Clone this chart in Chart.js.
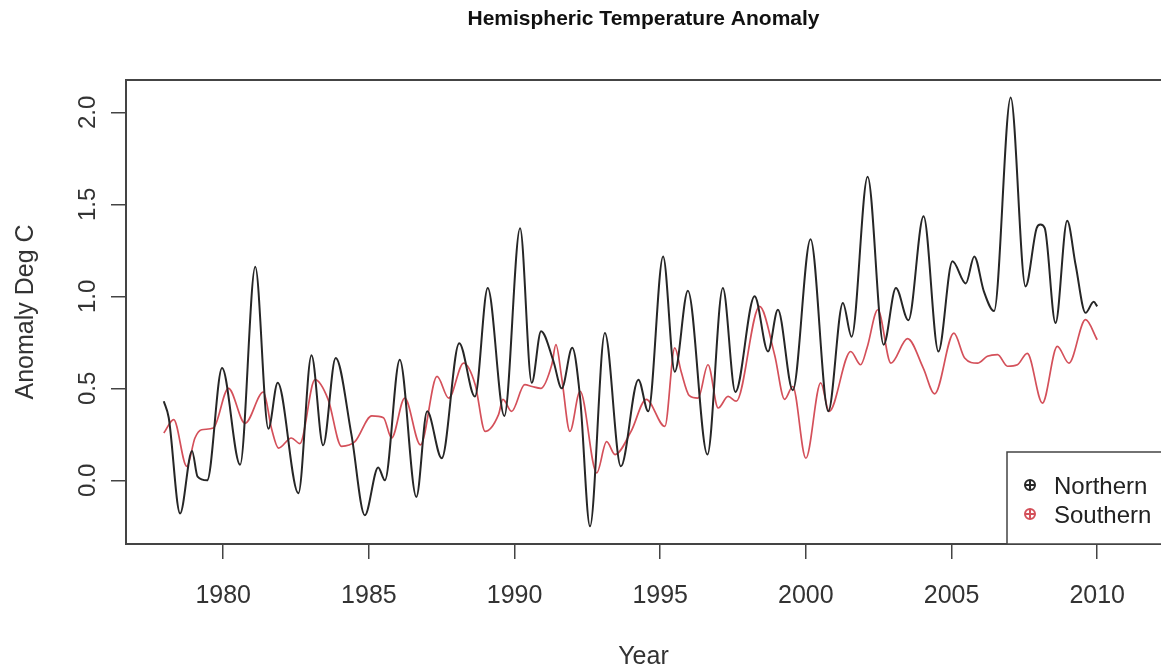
<!DOCTYPE html>
<html lang="en">
<head>
  <meta charset="UTF-8" />
  <title>Hemispheric Temperature Anomaly</title>
  <script src="https://cdn.jsdelivr.net/npm/chart.js"></script>
  <style>
    html, body { margin: 0; padding: 0; background: #fff; overflow: hidden; }
    canvas { display: block; }
  </style>
</head>
<body>
  <canvas id="anomalyChart" width="1161" height="668"></canvas>

  <script>
    // values (year, deg C)
    const northYears = [
      1977.96, 1978.13, 1978.52, 1978.93, 1979.12, 1979.45, 1979.96, 1980.58, 1981.10, 1981.55,
      1981.87, 1982.58, 1983.03, 1983.43, 1983.86, 1984.40, 1984.86, 1985.32, 1985.55, 1986.06,
      1986.63, 1987.00, 1987.50, 1988.10, 1988.64, 1989.08, 1989.65, 1990.19, 1990.59, 1990.91,
      1991.33, 1991.62, 1991.98, 1992.25, 1992.59, 1993.10, 1993.65, 1994.25, 1994.59, 1995.10,
      1995.50, 1995.95, 1996.62, 1997.15, 1997.58, 1998.24, 1998.70, 1999.04, 1999.55, 2000.16,
      2000.77, 2001.27, 2001.57, 2002.12, 2002.67, 2003.09, 2003.52, 2004.04, 2004.55, 2005.03,
      2005.49, 2005.78, 2006.11, 2006.46, 2007.03, 2007.54, 2007.92, 2008.05, 2008.20, 2008.57,
      2008.97, 2009.26, 2009.60, 2009.88, 2010.00
    ];
    const northValues = [
      0.43, 0.34, -0.18, 0.16, 0.02, 0.00, 0.61, 0.085, 1.16, 0.28,
      0.53, -0.07, 0.68, 0.19, 0.665, 0.25, -0.19, 0.07, 0.00, 0.655,
      -0.09, 0.375, 0.12, 0.745, 0.455, 1.045, 0.35, 1.37, 0.53, 0.81,
      0.65, 0.50, 0.72, 0.45, -0.25, 0.80, 0.076, 0.547, 0.375, 1.217,
      0.59, 1.03, 0.14, 1.045, 0.48, 1.00, 0.70, 0.927, 0.49, 1.31,
      0.375, 0.964, 0.78, 1.65, 0.737, 1.045, 0.87, 1.435, 0.70, 1.19,
      1.07, 1.217, 1.027, 0.92, 2.08, 1.054, 1.37, 1.39, 1.37, 0.855,
      1.41, 1.17, 0.91, 0.97, 0.945
    ];

    const southYears = [
      1977.96, 1978.30, 1978.75, 1979.03, 1979.26, 1979.66, 1980.18, 1980.75, 1981.38, 1981.66,
      1981.90, 1982.34, 1982.63, 1983.15, 1983.60, 1984.06, 1984.52, 1985.10, 1985.50, 1985.78,
      1986.23, 1986.77, 1987.34, 1987.74, 1988.25, 1988.65, 1988.99, 1989.45, 1989.60, 1989.90,
      1990.35, 1990.60, 1990.90, 1991.28, 1991.42, 1991.62, 1991.90, 1992.25, 1992.82, 1993.16,
      1993.45, 1994.00, 1994.52, 1995.16, 1995.50, 1995.72, 1996.00, 1996.30, 1996.64, 1996.99,
      1997.33, 1997.61, 1998.41, 1998.93, 1999.27, 1999.55, 2000.00, 2000.51, 2000.80, 2001.54,
      2001.88, 2002.10, 2002.47, 2002.92, 2003.49, 2004.03, 2004.42, 2005.08, 2005.45, 2005.89,
      2006.23, 2006.58, 2006.92, 2007.26, 2007.60, 2008.12, 2008.63, 2009.03, 2009.60, 2010.00
    ];
    const southValues = [
      0.257, 0.33, 0.076, 0.23, 0.275, 0.284, 0.50, 0.31, 0.48, 0.28,
      0.175, 0.23, 0.20, 0.547, 0.44, 0.185, 0.21, 0.35, 0.34, 0.23,
      0.447, 0.193, 0.565, 0.447, 0.637, 0.52, 0.266, 0.357, 0.44, 0.375,
      0.52, 0.51, 0.50, 0.63, 0.737, 0.556, 0.266, 0.484, 0.04, 0.21,
      0.14, 0.266, 0.44, 0.293, 0.72, 0.59, 0.46, 0.447, 0.628, 0.393,
      0.456, 0.43, 0.945, 0.68, 0.44, 0.51, 0.12, 0.53, 0.375, 0.70,
      0.628, 0.72, 0.927, 0.637, 0.77, 0.61, 0.47, 0.80, 0.665, 0.637,
      0.674, 0.683, 0.62, 0.628, 0.69, 0.42, 0.728, 0.637, 0.873, 0.764
    ];

    const seriesLabels = ["Northern", "Southern"];
    const xTicks = [1980, 1985, 1990, 1995, 2000, 2005, 2010];
    const yTicks = [0, 0.5, 1, 1.5, 2];

    const FONT = '"Liberation Sans", Arial, sans-serif';
    const northColor = "#262626";
    const southColor = "#d4505a";

    const toPoints = (xs, ys) => xs.map((x, i) => ({ x: x, y: ys[i] }));

    // R style plot box, main title and boxed legend
    const rDecor = {
      id: "rDecor",
      afterDraw(chart) {
        const { ctx, chartArea } = chart;
        const { left, top, right, bottom } = chartArea;
        ctx.save();

        ctx.strokeStyle = "#444";
        ctx.lineWidth = 2;
        ctx.strokeRect(left, top, right - left + 10, bottom - top);

        ctx.fillStyle = "#111";
        ctx.font = "bold 21px " + FONT;
        ctx.textAlign = "center";
        ctx.textBaseline = "middle";
        ctx.fillText("Hemispheric Temperature Anomaly", (left + right) / 2, 19);

        // legend
        const lx = right - 154, ly = bottom - 92;
        ctx.fillStyle = "#fff";
        ctx.fillRect(lx, ly, 200, bottom - ly);
        ctx.strokeStyle = "#444";
        ctx.lineWidth = 1.5;
        ctx.strokeRect(lx, ly, 200, bottom - ly);

        chart.data.datasets.forEach((ds, i) => {
          const cy = ly + 33 + i * 29;
          const cx = lx + 23;
          ctx.strokeStyle = ds.borderColor;
          ctx.lineWidth = 2;
          ctx.beginPath();
          ctx.arc(cx, cy, 5, 0, Math.PI * 2);
          ctx.moveTo(cx - 5, cy); ctx.lineTo(cx + 5, cy);
          ctx.moveTo(cx, cy - 5); ctx.lineTo(cx, cy + 5);
          ctx.stroke();

          ctx.fillStyle = "#222";
          ctx.font = "24px " + FONT;
          ctx.textAlign = "left";
          ctx.textBaseline = "middle";
          ctx.fillText(ds.label, lx + 47, cy + 2);
        });

        ctx.restore();
      }
    };

    new Chart(document.getElementById("anomalyChart"), {
      type: "line",
      data: {
        datasets: [
          {
            label: seriesLabels[0],
            data: toPoints(northYears, northValues),
            borderColor: northColor,
            borderWidth: 2,
            pointRadius: 0,
            cubicInterpolationMode: "monotone",
            fill: false
          },
          {
            label: seriesLabels[1],
            data: toPoints(southYears, southValues),
            borderColor: southColor,
            borderWidth: 1.7,
            pointRadius: 0,
            cubicInterpolationMode: "monotone",
            fill: false
          }
        ]
      },
      options: {
        responsive: false,
        animation: false,
        devicePixelRatio: 1,
        layout: { padding: { top: 80, left: 0, right: -3, bottom: 0 } },
        plugins: {
          legend: { display: false },
          title: { display: false },
          tooltip: { enabled: false }
        },
        scales: {
          x: {
            type: "linear",
            min: 1976.663,
            max: 2012.19,
            afterFit: (s) => { s.height = 124; },
            afterBuildTicks: (s) => { s.ticks = xTicks.map(v => ({ value: v })); },
            grid: { drawOnChartArea: false, drawTicks: true, tickLength: 15, color: "#444", lineWidth: 1.5 },
            border: { display: false },
            ticks: {
              color: "#333",
              font: { family: FONT, size: 25 },
              padding: 22,
              maxRotation: 0,
              callback: (v) => String(v)
            },
            title: {
              display: true,
              text: "Year",
              color: "#333",
              font: { family: FONT, size: 25, lineHeight: 1 },
              padding: { top: 0, bottom: -2 }
            }
          },
          y: {
            type: "linear",
            min: -0.346,
            max: 2.1755,
            afterFit: (s) => { s.width = 126; },
            afterBuildTicks: (s) => { s.ticks = yTicks.map(v => ({ value: v })); },
            grid: { drawOnChartArea: false, drawTicks: true, tickLength: 15, color: "#444", lineWidth: 1.5 },
            border: { display: false },
            ticks: {
              color: "#333",
              font: { family: FONT, size: 24 },
              padding: 6,
              minRotation: 90,
              maxRotation: 90,
              crossAlign: "center",
              callback: (v) => v.toFixed(1)
            },
            title: {
              display: true,
              text: "Anomaly Deg C",
              color: "#333",
              font: { family: FONT, size: 25, lineHeight: 1 },
              padding: { top: 14, bottom: 0 }
            }
          }
        }
      },
      plugins: [rDecor]
    });
  </script>
</body>
</html>
